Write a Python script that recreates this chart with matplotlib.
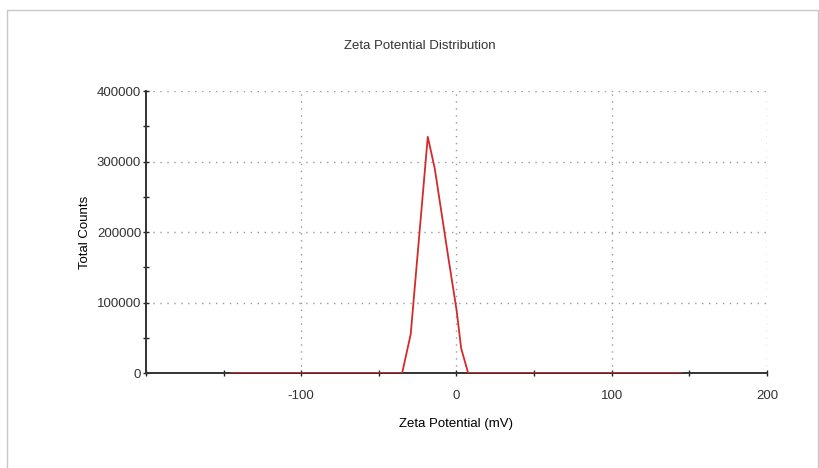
import matplotlib.pyplot as plt
from matplotlib.patches import Rectangle
from matplotlib.ticker import MultipleLocator

plt.rcParams['font.family'] = ['Liberation Sans', 'DejaVu Sans']
plt.rcParams['axes.unicode_minus'] = False
plt.rcParams['text.color'] = '#333333'
plt.rcParams['xtick.labelcolor'] = '#333333'
plt.rcParams['ytick.labelcolor'] = '#333333'

# zeta potential (mV) vs total counts
zeta = [-145, -35, -29.5, -18.5, -14, -5, 0, 3, 7.5, 145]
counts = [0, 0, 55000, 335000, 290000, 160000, 90000, 35000, 0, 0]

x_ticks = [-100, 0, 100, 200]
y_ticks = [0, 100000, 200000, 300000, 400000]

fig = plt.figure(figsize=(8.2, 4.68), dpi=100)

# screenshot frame
fig.patches.append(Rectangle((7 / 820, -0.05), (818 - 7) / 820, 1.05 - 10 / 468,
                             transform=fig.transFigure, fill=False,
                             edgecolor='#c8c8c8', linewidth=1.0))

ax = fig.add_axes([146 / 820, 1 - 373 / 468, (767 - 146) / 820, (373 - 91) / 468])

ax.plot(zeta, counts, color='#d42a2a', linewidth=1.3, zorder=3)

ax.set_xlim(-200, 200)
ax.set_ylim(0, 400000)
ax.set_xticks(x_ticks)
ax.set_yticks(y_ticks)
ax.xaxis.set_minor_locator(MultipleLocator(50))
ax.yaxis.set_minor_locator(MultipleLocator(50000))
ax.tick_params(axis='both', which='both', direction='inout', labelsize=9.5,
               color='#222222', width=1.0)
ax.tick_params(axis='both', which='major', length=5)
ax.tick_params(axis='both', which='minor', length=5)
ax.tick_params(axis='x', pad=10)
ax.tick_params(axis='y', pad=1)

ax.grid(True, which='major', color='#999999', linestyle=(0, (1, 4)), linewidth=1.0)

for s in ['top', 'right']:
    ax.spines[s].set_visible(False)
for s in ['left', 'bottom']:
    ax.spines[s].set_linewidth(1.4)
    ax.spines[s].set_color('#333333')

fig.text(420 / 820, 1 - 46 / 468, 'Zeta Potential Distribution', fontsize=9.5,
         ha='center', va='center')
ax.set_xlabel('Zeta Potential (mV)', fontsize=9.5, labelpad=11)
ax.set_ylabel('Total Counts', fontsize=9.5, labelpad=4)

fig.savefig('out.png', dpi=100)
